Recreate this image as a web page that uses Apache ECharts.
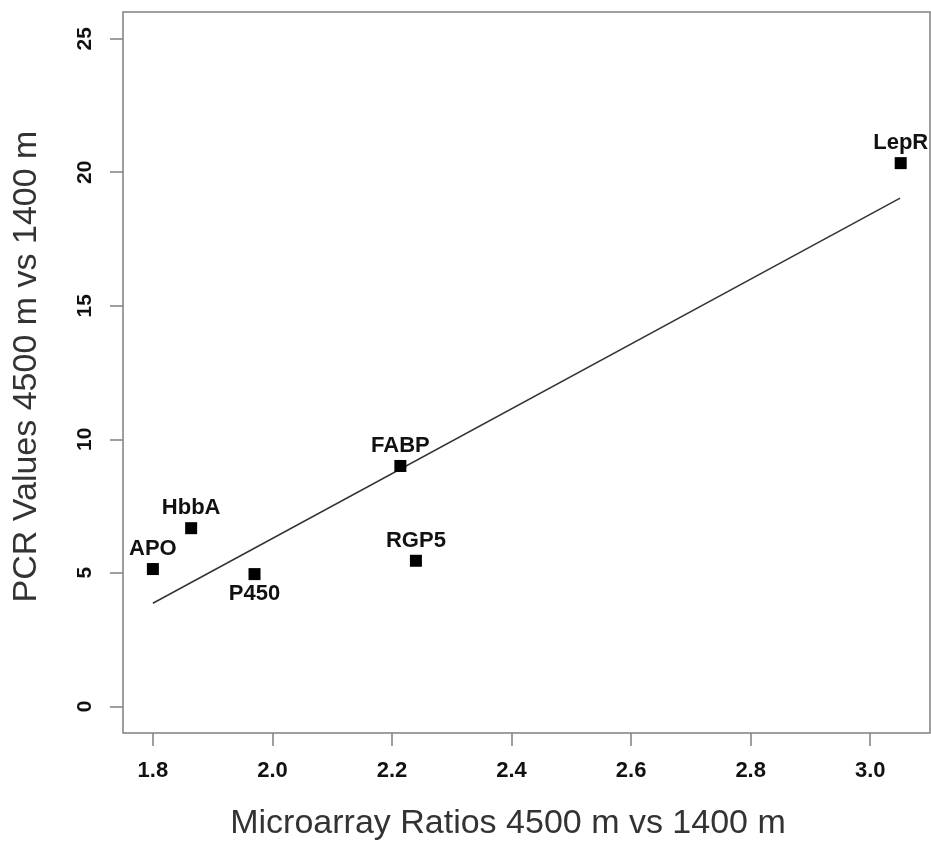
<!DOCTYPE html>
<html>
<head>
<meta charset="utf-8">
<script src="https://cdn.jsdelivr.net/npm/echarts@6/dist/echarts.min.js"></script>
<style>
  html, body { margin: 0; padding: 0; background: #fff; }
  #chart { width: 931px; height: 848px; }
</style>
</head>
<body>
<div id="chart"></div>
<script>
// genes and their values
let genes = ['APO', 'HbbA', 'P450', 'FABP', 'RGP5', 'LepR']
let microRatio = [1.80, 1.864, 1.97, 2.214, 2.24, 3.051]
let pcrValue = [5.14, 6.67, 4.95, 9.0, 5.45, 20.34]
// fitted line end points
let fitX = [1.8, 3.05]
let fitY = [3.86, 19.03]
// tick labels
let xTicks = [1.8, 2.0, 2.2, 2.4, 2.6, 2.8, 3.0]
let yTicks = [0, 5, 10, 15, 20, 25]

let font = 'Liberation Sans, Arial, Helvetica, sans-serif'

let pointData = genes.map(function (g, i) {
    let item = { name: g, value: [microRatio[i], pcrValue[i]] }
    if (g === 'P450') {
        item.label = { position: 'bottom' }   // this one is labelled underneath
    }
    return item
})
let lineData = fitX.map(function (x, i) { return [x, fitY[i]] })

let chart = echarts.init(document.getElementById('chart'))
chart.setOption({
    animation: false,
    backgroundColor: '#fff',
    grid: {
        left: 123, top: 12, right: 1, bottom: 115,
        show: true,
        borderColor: '#808080',
        borderWidth: 1.5
    },
    xAxis: {
        type: 'value',
        min: 1.75,
        max: 3.10,
        name: 'Microarray Ratios 4500 m vs 1400 m',
        nameLocation: 'middle',
        nameGap: 74,
        nameTextStyle: { fontFamily: font, fontSize: 34, color: '#333', padding: [0, 37, 0, 0] },
        splitLine: { show: false },
        axisLine: { show: false, onZero: false },
        axisTick: {
            show: true, length: 13, customValues: xTicks,
            lineStyle: { color: '#808080', width: 1.5 }
        },
        axisLabel: {
            customValues: xTicks,
            margin: 27,
            fontFamily: font, fontSize: 22, fontWeight: 'bold', color: '#111',
            formatter: function (v) { return v.toFixed(1) }
        }
    },
    yAxis: {
        type: 'value',
        min: -1,
        max: 26,
        name: 'PCR Values 4500 m vs 1400 m',
        nameLocation: 'middle',
        nameGap: 79,
        nameRotate: 90,
        nameTextStyle: { fontFamily: font, fontSize: 34, color: '#333', padding: [0, 0, 0, 12] },
        splitLine: { show: false },
        axisLine: { show: false, onZero: false },
        axisTick: {
            show: true, length: 13, customValues: yTicks,
            lineStyle: { color: '#808080', width: 1.5 }
        },
        axisLabel: {
            customValues: yTicks,
            rotate: 90,
            margin: 27,
            fontFamily: font, fontSize: 21, fontWeight: 'bold', color: '#111'
        }
    },
    series: [
        {
            type: 'line',
            data: lineData,
            symbol: 'none',
            lineStyle: { color: '#333', width: 1.5 },
            silent: true,
            z: 1
        },
        {
            type: 'scatter',
            data: pointData,
            symbol: 'rect',
            symbolSize: 12,
            itemStyle: { color: '#000', opacity: 1 },
            label: {
                show: true,
                position: 'top',
                distance: 3,
                formatter: '{b}',
                fontFamily: font, fontSize: 22, fontWeight: 'bold', color: '#111'
            },
            z: 2
        }
    ]
})
</script>
</body>
</html>
